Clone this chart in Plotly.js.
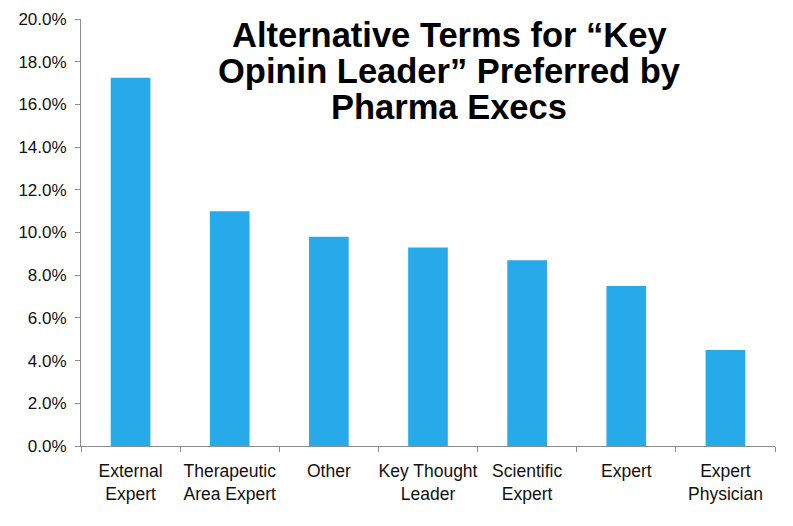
<!DOCTYPE html>
<html>
<head>
<meta charset="utf-8">
<script src="https://cdn.plot.ly/plotly-3.0.1.min.js"></script>
<style>html,body{margin:0;padding:0;background:#fff;}#chart{width:793px;height:526px;}</style>
</head>
<body>
<div id="chart"></div>
<script>
const categories = ["External<br>Expert", "Therapeutic<br>Area Expert", "Other", "Key Thought<br>Leader", "Scientific<br>Expert", "Expert", "Expert<br>Physician"];
const values = [17.25, 11.0, 9.8, 9.3, 8.7, 7.5, 4.5];
const titleLines = ["Alternative Terms for \u201cKey", "Opinin Leader\u201d Preferred by", "Pharma Execs"];

const FONT = "Arial, 'Liberation Sans', sans-serif";
const titleY = [0.9618, 0.878, 0.794];

const data = [{
  type: "bar",
  x: categories,
  y: values,
  marker: {color: "#27aae9"},
  hoverinfo: "skip"
}];

const layout = {
  width: 793, height: 526,
  margin: {l: 81, r: 18, t: 19, b: 80},
  paper_bgcolor: "#ffffff",
  plot_bgcolor: "#ffffff",
  showlegend: false,
  bargap: 0.6,
  font: {family: FONT, size: 17, color: "#111111"},
  xaxis: {
    type: "category",
    showgrid: false,
    zeroline: false,
    showline: true,
    linecolor: "#8c8c8c",
    linewidth: 1,
    ticks: "outside",
    tickson: "boundaries",
    ticklen: 5,
    tickcolor: "#8c8c8c",
    tickangle: 0,
    ticklabelstandoff: 9,
    tickfont: {family: FONT, size: 17.5, color: "#111111"},
    fixedrange: true
  },
  yaxis: {
    range: [0, 20],
    dtick: 2,
    tick0: 0,
    tickformat: ".1f",
    ticksuffix: "%",
    showgrid: false,
    zeroline: false,
    showline: true,
    linecolor: "#8c8c8c",
    linewidth: 1,
    ticks: "outside",
    ticklen: 5,
    tickcolor: "#8c8c8c",
    ticklabelstandoff: 5,
    tickfont: {family: FONT, size: 17, color: "#111111"},
    fixedrange: true
  },
  annotations: titleLines.map((t, i) => ({
    text: "<b>" + t + "</b>",
    xref: "paper", yref: "paper",
    x: (449 - 81) / 694, y: titleY[i],
    xanchor: "center", yanchor: "middle",
    showarrow: false,
    font: {family: FONT, size: 34.5, color: "#000000"}
  }))
};

Plotly.newPlot("chart", data, layout, {displayModeBar: false, staticPlot: true});
</script>
</body>
</html>
